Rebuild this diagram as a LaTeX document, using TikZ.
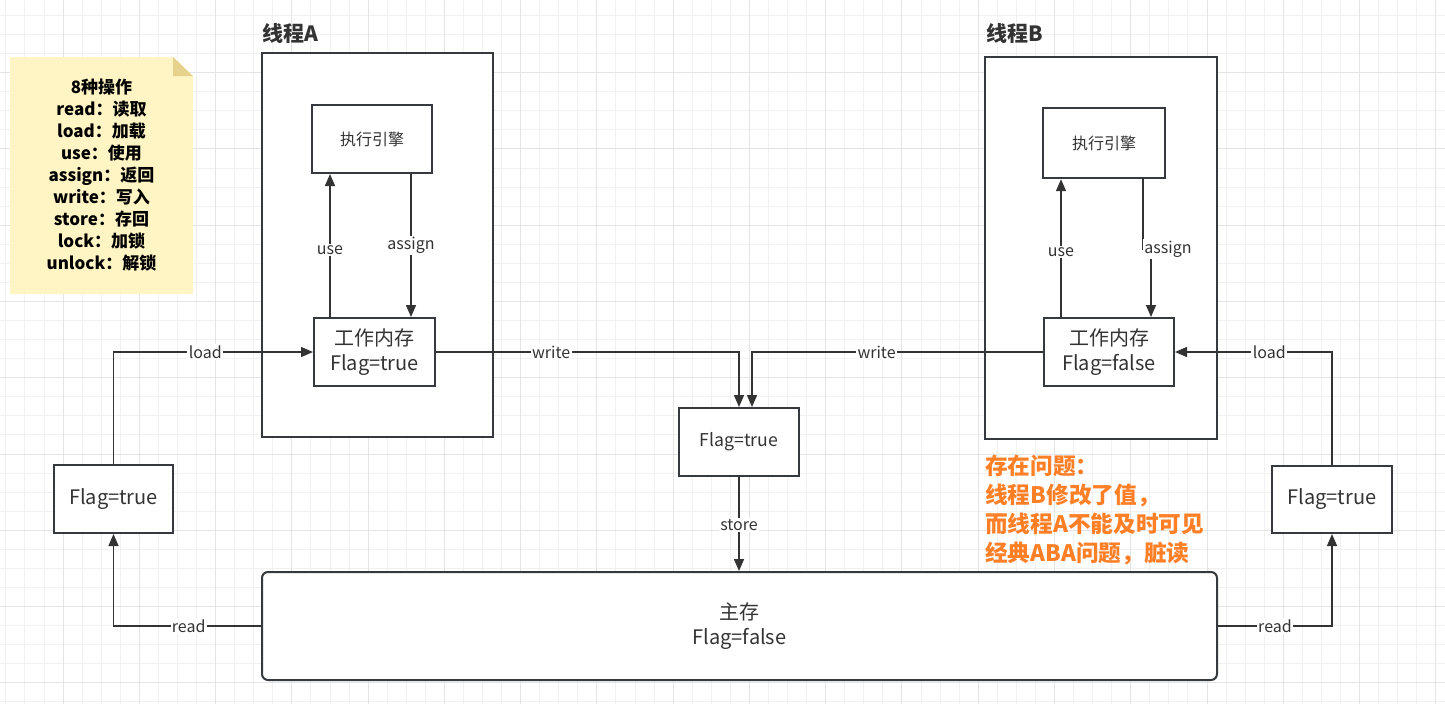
\documentclass[tikz,border=0pt]{standalone}
\usepackage{fontspec}
\setmainfont{Noto Sans CJK SC}
\usetikzlibrary{arrows.meta,calc}
\definecolor{ln}{HTML}{333333}
\definecolor{bd}{HTML}{36393D}
\definecolor{notefill}{HTML}{FFF4C3}
\definecolor{notefold}{HTML}{E6D28C}
\definecolor{warn}{HTML}{FF7F27}
\definecolor{gminor}{HTML}{F1F1F1}
\definecolor{gmajor}{HTML}{E4E4E4}
\tikzset{
  box/.style={draw=bd, line width=1.5pt, fill=white, inner sep=0pt, align=center, text=ln},
  bigtxt/.style={font=\fontsize{15}{18.5}\selectfont},
  arr/.style={draw=ln, line width=1.1pt, -{Triangle[length=9pt,width=7.5pt]}},
  lbl/.style={fill=white, inner sep=1pt, text=ln, font=\fontsize{12}{14}\selectfont},
  title/.style={anchor=west, inner sep=0pt, text=ln, font=\bfseries\fontsize{15.75}{18}\selectfont},
}
\begin{document}
\begin{tikzpicture}[x=0.75pt,y=-0.75pt]
\useasboundingbox (0,0) rectangle (1445,704);
\fill[white] (0,0) rectangle (1445,704);
% grid
\foreach \i in {0,...,75} {\pgfmathsetmacro\gx{5.9+19.065*\i}\draw[gminor,line width=0.75pt] (\gx,0) -- (\gx,704);}
\foreach \i in {0,...,36} {\pgfmathsetmacro\gy{15.5+19.065*\i}\draw[gminor,line width=0.75pt] (0,\gy) -- (1445,\gy);}
\foreach \i in {0,...,18} {\pgfmathsetmacro\gx{63.1+76.26*\i}\draw[gmajor,line width=0.75pt] (\gx,0) -- (\gx,704);}
\foreach \i in {0,...,8} {\pgfmathsetmacro\gy{72.7+76.26*\i}\draw[gmajor,line width=0.75pt] (0,\gy) -- (1445,\gy);}

% note
\fill[notefill] (10,57) -- (173,57) -- (193,76) -- (193,294) -- (10,294) -- cycle;
\fill[notefold] (173,57) -- (173,76) -- (193,76) -- cycle;
\node[align=center, text=black, font=\bfseries\fontsize{12.75}{16.5}\selectfont] (note) at (101.5,175.5)
  {8种操作\\read：读取\\load：加载\\use：使用\\assign：返回\\write：写入\\store：存回\\lock：加锁\\unlock：解锁};

% titles
\node[title] (tA) at (262,33) {线程A};
\node[title] (tB) at (986,33) {线程B};

% thread boxes
\node[box, minimum width=173.25pt, minimum height=288pt] (thA) at (377.5,245) {};
\node[box, minimum width=174pt, minimum height=286.5pt] (thB) at (1101,248) {};

% inner boxes
\node[box, minimum width=90pt, minimum height=51pt, font=\fontsize{12}{14}\selectfont] (eeA) at (372,139) {执行引擎};
\node[box, bigtxt, minimum width=90.75pt, minimum height=51pt] (wmA) at (374.5,352) {工作内存\\Flag=true};
\node[box, minimum width=91.5pt, minimum height=52.5pt, line width=1.8pt, font=\fontsize{12}{14}\selectfont] (eeB) at (1104,143) {执行引擎};
\node[box, bigtxt, minimum width=97.5pt, minimum height=51pt] (wmB) at (1109,352) {工作内存\\Flag=false};

% flag boxes
\node[box, minimum width=90pt, minimum height=51pt, font=\fontsize{13.25}{15}\selectfont] (mid) at (739,442) {Flag=true};
\node[box, bigtxt, minimum width=89.25pt, minimum height=51pt] (lf) at (113.5,499) {Flag=true};
\node[box, bigtxt, minimum width=90pt, minimum height=50.25pt] (rf) at (1332,499.5) {Flag=true};

% main memory
\node[box, bigtxt, rounded corners=4.5pt, minimum width=716.25pt, minimum height=81pt] (main) at (739.5,626) {主存\\Flag=false};

% warning text
\node[anchor=west, align=left, inner sep=0pt, text=warn, font=\bfseries\fontsize{17}{21.75}\selectfont] (warnTxt) at (985,510)
  {存在问题：\\线程B修改了值，\\而线程A不能及时可见\\经典ABA问题，脏读};

% lane coordinates
\coordinate (uA) at (330,0);
\coordinate (aA) at (411,0);
\coordinate (uB) at (1061,0);
\coordinate (aB1) at (1143,249);
\coordinate (aB2) at (1151,249);
\coordinate (wB) at (752,0);

% thread A
\draw[arr] (uA |- wmA.north) -- node[lbl, pos=0.47]{use} (uA |- eeA.south);
\draw[arr] (aA |- eeA.south) -- node[lbl]{assign} (aA |- wmA.north);
% thread B
\draw[arr] (uB |- wmB.north) -- node[lbl, pos=0.47]{use} (uB |- eeB.south);
\draw[arr] (aB1 |- eeB.south) -- (aB1) -- (aB2) -- (aB2 |- wmB.north);
\node[lbl] (laB) at (1168,249) {assign};

% load
\draw[arr] (lf.north) |- node[lbl, pos=0.73]{load} (wmA.west);
\draw[arr] (rf.north) |- node[lbl, pos=0.70]{load} (wmB.east);
% write
\draw[arr] (wmA.east) -| node[lbl, pos=0.19]{write} (mid.north);
\draw[arr] (wmB.west) -| node[lbl, pos=0.286]{write} (wB |- mid.north);
% store
\draw[arr] (mid.south) -- node[lbl, pos=0.51]{store} (mid.south |- main.north);
% read
\draw[arr] (main.west) -| node[lbl, pos=0.245]{read} (lf.south);
\draw[arr] (main.east) -| node[lbl, pos=0.25]{read} (rf.south);
\end{tikzpicture}
\end{document}
